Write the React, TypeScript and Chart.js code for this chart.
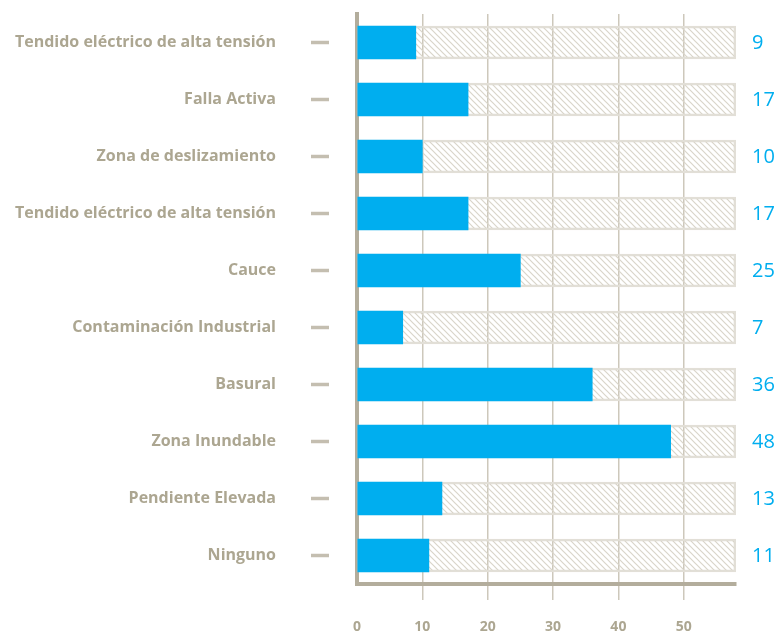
import React, { useEffect, useRef } from "react";
import { Chart, registerables } from "chart.js";

Chart.register(...registerables);

const categories = [
  "Tendido eléctrico de alta tensión",
  "Falla Activa",
  "Zona de deslizamiento",
  "Tendido eléctrico de alta tensión",
  "Cauce",
  "Contaminación Industrial",
  "Basural",
  "Zona Inundable",
  "Pendiente Elevada",
  "Ninguno",
];
const values = [9, 17, 10, 17, 25, 7, 36, 48, 13, 11];
const trackMax = [58, 58, 58, 58, 58, 58, 58, 58, 58, 58];
const xTicks = [0, 10, 20, 30, 40, 50];

const BLUE = "#00aeef";
const GRAY_TEXT = "#aca691";
const AXIS = "#b3ad9c";
const GRID = "#cdc8bb";
const FONT = "'Open Sans', sans-serif";

function makePattern(): CanvasPattern | string {
  const c = document.createElement("canvas");
  const s = 6;
  c.width = s;
  c.height = s;
  const g = c.getContext("2d");
  if (!g) return "#eeeeee";
  g.strokeStyle = "#d9d5ca";
  g.lineWidth = 1.2;
  g.beginPath();
  g.moveTo(-1, -1);
  g.lineTo(s + 1, s + 1);
  g.moveTo(-1, s - 1);
  g.lineTo(1, s + 1);
  g.moveTo(s - 1, -1);
  g.lineTo(s + 1, 1);
  g.stroke();
  const p = g.createPattern(c, "repeat");
  return p || "#eeeeee";
}

const sidePlugin = {
  id: "sideMarks",
  afterDatasetsDraw(chart: any) {
    const { ctx } = chart;
    const y = chart.scales.y;
    ctx.save();
    values.forEach((v, i) => {
      const py = y.getPixelForValue(i);
      ctx.strokeStyle = "#c4beb0";
      ctx.lineWidth = 3.5;
      ctx.beginPath();
      ctx.moveTo(311, py);
      ctx.lineTo(329, py);
      ctx.stroke();
      ctx.fillStyle = BLUE;
      ctx.font = `500 20px ${FONT}`;
      ctx.textAlign = "left";
      ctx.textBaseline = "middle";
      ctx.fillText(String(v), 752, py + 1);
    });
    ctx.restore();
  },
};

export default function App() {
  const ref = useRef<HTMLCanvasElement>(null);
  useEffect(() => {
    if (!ref.current) return;
    const chart = new Chart(ref.current, {
      type: "bar",
      data: {
        labels: categories,
        datasets: [
          {
            data: values,
            backgroundColor: BLUE,
            borderWidth: 0,
            barThickness: 33,
            grouped: false,
          },
          {
            data: trackMax,
            backgroundColor: makePattern() as any,
            borderColor: "#e2dfd7",
            borderWidth: 2,
            borderSkipped: false,
            barThickness: 33,
            grouped: false,
          },
        ],
      },
      options: {
        indexAxis: "y",
        responsive: false,
        animation: false,
        layout: { padding: { top: 14, right: 38, bottom: 0, left: 0 } },
        plugins: { legend: { display: false }, tooltip: { enabled: false } },
        scales: {
          x: {
            min: 0,
            max: 58,
            afterBuildTicks: (scale: any) => {
              scale.ticks = xTicks.map((v) => ({ value: v }));
            },
            afterFit: (scale: any) => {
              scale.height = 51;
              scale.paddingLeft = 0;
              scale.paddingRight = 0;
            },
            grid: {
              color: (ctx: any) => (ctx.tick && ctx.tick.value === 0 ? "rgba(0,0,0,0)" : GRID),
              lineWidth: 1.5,
              drawTicks: true,
              tickLength: 16,
            },
            border: { display: true, color: AXIS, width: 4 },
            ticks: {
              padding: 19,
              color: GRAY_TEXT,
              font: { family: FONT, size: 14, weight: "bold" },
            },
          },
          y: {
            afterFit: (scale: any) => {
              scale.width = 357;
              scale.paddingTop = 0;
              scale.paddingBottom = 0;
            },
            grid: { display: false, drawTicks: false },
            border: { display: true, color: AXIS, width: 4 },
            ticks: {
              padding: 81,
              color: GRAY_TEXT,
              font: { family: FONT, size: 16, weight: "bold" },
            },
          },
        },
      },
      plugins: [sidePlugin],
    });
    return () => chart.destroy();
  }, []);
  return (
    <div style={{ position: "absolute", left: 0, top: 0, width: 774, height: 635 }}>
      <canvas ref={ref} width={774} height={635} />
    </div>
  );
}
